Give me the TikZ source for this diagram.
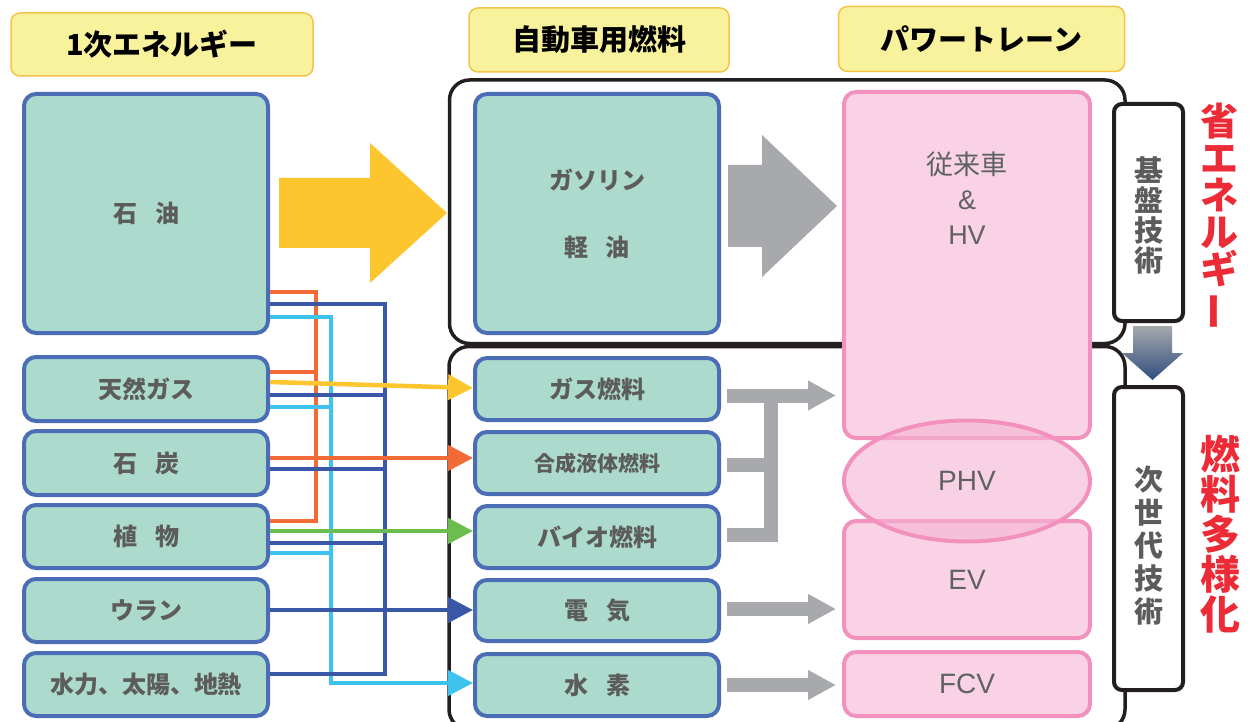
\documentclass[tikz,border=0pt]{standalone}
\usepackage{fontspec}
\usepackage{graphicx}
\setmainfont{Noto Sans CJK JP}
\newfontfamily\lat{Liberation Sans}
\usetikzlibrary{arrows.meta,shapes.geometric}
\definecolor{tealfill}{HTML}{ACDBCE}
\definecolor{tealline}{HTML}{4A6DB6}
\definecolor{hdrfill}{HTML}{F8F29D}
\definecolor{hdrline}{HTML}{F4C44A}
\definecolor{pinkfill}{HTML}{F9D3E5}
\definecolor{pinkline}{HTML}{F291BD}
\definecolor{phvfill}{HTML}{F4B4D2}
\definecolor{txtgray}{HTML}{5C5C5C}
\definecolor{pinktxt}{HTML}{5F6163}
\definecolor{redtxt}{HTML}{EC2B37}
\definecolor{cOrange}{HTML}{F26A36}
\definecolor{cDark}{HTML}{3957A6}
\definecolor{cLight}{HTML}{3DC3EE}
\definecolor{cYellow}{HTML}{FDC52E}
\definecolor{cGreen}{HTML}{6BBD4F}
\definecolor{cGray}{HTML}{A7A9AC}
\definecolor{cNavy}{HTML}{2F4D80}
\definecolor{frameblk}{HTML}{231F20}
\newcommand{\jsp}{\hspace{0.75em}}
\begin{document}
\begin{tikzpicture}[x=1pt,y=-1pt,
  hdr/.style={draw=hdrline, line width=1.5pt, fill=hdrfill, rounded corners=9pt, inner sep=0pt, outer sep=0pt, text=black, font=\fontsize{29}{29}\selectfont\bfseries},
  tbox/.style={draw=tealline, line width=4pt, fill=tealfill, rounded corners=12pt, inner sep=0pt, outer sep=2pt, text=txtgray, font=\fontsize{24}{24}\selectfont\bfseries, minimum width=244pt},
  pbox/.style={draw=pinkline, line width=4pt, fill=pinkfill, rounded corners=12pt, inner sep=0pt, outer sep=2pt, text=pinktxt, font=\fontsize{28}{28}\selectfont\lat, minimum width=246pt},
  grpframe/.style={draw=frameblk, line width=3.5pt, rounded corners=20pt, inner sep=0pt, outer sep=0pt},
  sbox/.style={draw=frameblk, line width=4pt, fill=white, rounded corners=8pt, inner sep=0pt, outer sep=0pt, minimum width=69pt},
  vlabel/.style={align=center, inner sep=0pt, text=txtgray},
  redlabel/.style={align=center, inner sep=0pt, text=redtxt},
  cl/.style={line width=4.5pt},
  ah/.style={-{Triangle[length=25pt,width=25pt]}},
  gl/.style={draw=cGray, line width=14pt},
  gah/.style={-{Triangle[length=28pt,width=28pt]}},
]
\fill[white] (0,0) rectangle (1251,722);
\useasboundingbox (0,0) rectangle (1251,722);

% group frames
\node[grpframe, minimum width=675.5pt, minimum height=263.5pt] (topgrp) at (787.25,211.75) {};
\node[grpframe, minimum width=676pt, minimum height=383pt] (botgrp) at (787,538) {};

% headers
\node[hdr, minimum width=302pt, minimum height=63pt] (h1) at (162,44.5) {1次エネルギー};
\node[hdr, minimum width=260pt, minimum height=64pt] (h2hdr) at (599,40) {自動車用燃料};
\node[hdr, minimum width=286pt, minimum height=65pt] (h3) at (981.5,39) {パワートレーン};

% big arrows
\fill[cYellow] (279,178) -- (370,178) -- (370,143) -- (447,213) -- (370,283) -- (370,248) -- (279,248) -- cycle;
\fill[cGray] (728,165) -- (762,165) -- (762,135) -- (837,206) -- (762,277) -- (762,247) -- (728,247) -- cycle;

% primary energy
\node[tbox, minimum height=239pt] (oil) at (146,213.5) {石\jsp 油};
\node[tbox, minimum height=64pt] (natgas) at (146,389) {天然ガス};
\node[tbox, minimum height=64pt] (coal) at (146,463) {石\jsp 炭};
\node[tbox, minimum height=63pt] (plant) at (146,536.5) {植\jsp 物};
\node[tbox, minimum height=63pt] (uran) at (146,610.5) {ウラン};
\node[tbox, minimum height=63pt] (renew) at (146,684.5) {水力、太陽、地熱};

% fuels
\node[tbox, minimum height=239pt, align=center, font=\fontsize{24}{67}\selectfont\bfseries] (gasoline) at (597,213.5) {ガソリン\\軽\jsp 油};
\node[tbox, minimum height=62pt] (gasf) at (597,389) {ガス燃料};
\node[tbox, minimum height=62pt, font=\fontsize{21}{21}\selectfont\bfseries] (synf) at (597,463) {合成液体燃料};
\node[tbox, minimum height=62pt] (biof) at (597,537) {バイオ燃料};
\node[tbox, minimum height=61pt] (elec) at (597,610.5) {電\jsp 気};
\node[tbox, minimum height=62pt] (h2) at (597,685) {水\jsp 素};

% powertrains
\node[pbox, minimum height=346pt] (conv) at (967,265) {};
\node[align=center, text=pinktxt, inner sep=0pt, font=\fontsize{27}{35}\selectfont] (convtxt) at (967,198) {従来車\\{\lat\&}\\{\lat HV}};
\node[pbox, minimum height=117pt] (ev) at (967,579.5) {EV};
\node[pbox, minimum height=64pt] (fcv) at (967,684) {FCV};
\node[ellipse, draw=pinkline, line width=4pt, fill=phvfill, fill opacity=0.6, text opacity=1, text=pinktxt, minimum width=246pt, minimum height=121pt, inner sep=0pt, outer sep=0pt, font=\fontsize{28}{28}\selectfont\lat] (phv) at (967,481) {PHV};

% colored connectors
\draw[cl, cOrange] (oil.east |- 0,292) -| (316,521) -- (plant.east |- 0,521);
\draw[cl, cOrange] (natgas.east |- 0,372) -- (316,372);
\draw[cl, cLight, ah] (oil.east |- 0,317) -| (331,683) -- (h2.west |- 0,683);
\draw[cl, cLight] (natgas.east |- 0,407) -- (331,407);
\draw[cl, cLight] (plant.east |- 0,553) -- (331,553);
\draw[cl, cDark] (oil.east |- 0,304) -| (385,674) -- (renew.east |- 0,674);
\draw[cl, cDark] (natgas.east |- 0,395) -- (385,395);
\draw[cl, cDark] (coal.east |- 0,469) -- (385,469);
\draw[cl, cDark] (plant.east |- 0,543) -- (385,543);
\draw[cl, cDark, ah] (uran.east |- 0,610) -- (elec.west |- 0,610);
\draw[cl, cOrange, ah] (coal.east |- 0,458) -- (synf.west |- 0,458);
\draw[cl, cYellow, ah] (natgas.east |- 0,382) -- (gasf.west |- 0,388);
\draw[cl, cGreen, ah] (plant.east |- 0,531) -- (biof.west |- 0,531);

% gray connectors
\draw[gl, gah] ([xshift=6pt]gasf.east |- 0,395.5) -- ([xshift=-6pt]conv.west |- 0,395.5);
\draw[gl] ([xshift=6pt]synf.east |- 0,465) -- (771,465);
\draw[gl] ([xshift=6pt]biof.east |- 0,535) -| (771,395.5);
\draw[gl, gah] ([xshift=6pt]elec.east |- 0,609) -- ([xshift=-6pt]ev.west |- 0,609);
\draw[gl, gah] ([xshift=6pt]h2.east |- 0,685) -- ([xshift=-6pt]fcv.west |- 0,685);

% gradient arrow between side boxes
\shade[top color=cGray, bottom color=cNavy] (1133,326) -- (1172,326) -- (1172,353) -- (1183,353) -- (1152.5,380) -- (1122,353) -- (1133,353) -- cycle;

% side boxes
\node[sbox, minimum height=217pt] (kiban) at (1148.5,212.5) {};
\node[sbox, minimum height=303pt] (jisedai) at (1148.5,538.5) {};
\node[vlabel, font=\fontsize{29}{30}\selectfont\bfseries] (kibantxt) at (1148.5,215) {基\\盤\\技\\術};
\node[vlabel, font=\fontsize{29}{33}\selectfont\bfseries] (jisedaitxt) at (1148.5,546) {次\\世\\代\\技\\術};

% red labels
\node[redlabel, font=\fontsize{38}{37}\selectfont\bfseries] (shoene) at (1219,217) {省\\エ\\ネ\\ル\\ギ\\\rotatebox[origin=c]{90}{ー}};
\node[redlabel, font=\fontsize{40}{40}\selectfont\bfseries] (tayou) at (1220,534) {燃\\料\\多\\様\\化};
\end{tikzpicture}
\end{document}
